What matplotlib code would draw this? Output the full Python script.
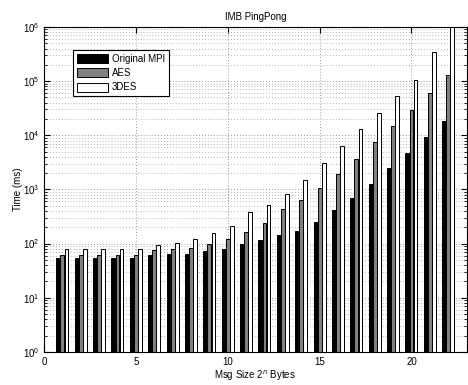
import numpy as np
import matplotlib
matplotlib.use("Agg")
import matplotlib.pyplot as plt
from matplotlib.ticker import LogLocator, MultipleLocator, NullFormatter

plt.rcParams['font.family'] = ['Liberation Sans', 'DejaVu Sans']

# message size exponent n (2^n bytes)
sizes = list(range(1, 23))
orig_mpi = [55, 55, 55, 55, 55, 62, 65, 65, 73, 80, 99, 117, 145, 171, 248,
            412, 705, 1280, 2520, 4790, 9300, 18100]
aes = [62, 62, 62, 62, 62, 75, 79, 84, 97, 122, 162, 244, 430, 640, 1080,
       1930, 3700, 7400, 15000, 29600, 60700, 128000]
des3 = [79, 79, 79, 79, 79, 93, 101, 120, 155, 215, 380, 523, 815, 1500, 3080,
        6330, 12900, 25900, 52600, 106000, 340000, 1500000]

fig = plt.figure(figsize=(4.68, 3.85), dpi=100)
ax = fig.add_axes([0.094, 0.086, 0.903, 0.844])

x = np.array(sizes)
step = 0.222
w = 0.21
ax.bar(x - step, orig_mpi, w, color="black", edgecolor="black", lw=0.7, label="Original MPI")
ax.bar(x, aes, w, color="0.5", edgecolor="black", lw=0.7, label="AES")
ax.bar(x + step, des3, w, color="white", edgecolor="black", lw=0.7, label="3DES")

ax.set_yscale("log")
ax.set_ylim(1, 1e6)
ax.set_xlim(0, 23)
ax.xaxis.set_major_locator(MultipleLocator(5))
ax.yaxis.set_major_locator(LogLocator(base=10, numticks=10))
ax.yaxis.set_minor_locator(LogLocator(base=10, subs=np.arange(2, 10), numticks=20))
ax.yaxis.set_minor_formatter(NullFormatter())

ax.set_axisbelow(True)
dots = (0, (1, 2.5))
ax.grid(True, which="major", linestyle=dots, color="0.45", lw=0.6)
ax.grid(True, which="minor", axis="y", linestyle=dots, color="0.6", lw=0.6)

ax.tick_params(which="both", direction="in", top=True, right=True, labelsize=7)
ax.tick_params(which="major", length=4)
ax.tick_params(which="minor", length=2)
for s in ax.spines.values():
    s.set_linewidth(0.8)

ax.set_title("IMB PingPong", fontsize=7, pad=5)
ax.set_xlabel("Msg Size 2$^n$ Bytes", fontsize=7, labelpad=1)
ax.set_ylabel("Time (ms)", fontsize=7, labelpad=0)

leg = ax.legend(loc="upper left", bbox_to_anchor=(0.068, 0.93), fontsize=7,
                fancybox=False, edgecolor="black", framealpha=1,
                handlelength=3.2, handleheight=1.05, borderpad=0.4,
                labelspacing=0.45, handletextpad=0.4, borderaxespad=0)
leg.get_frame().set_linewidth(0.8)

fig.savefig("out.png", dpi=100)
